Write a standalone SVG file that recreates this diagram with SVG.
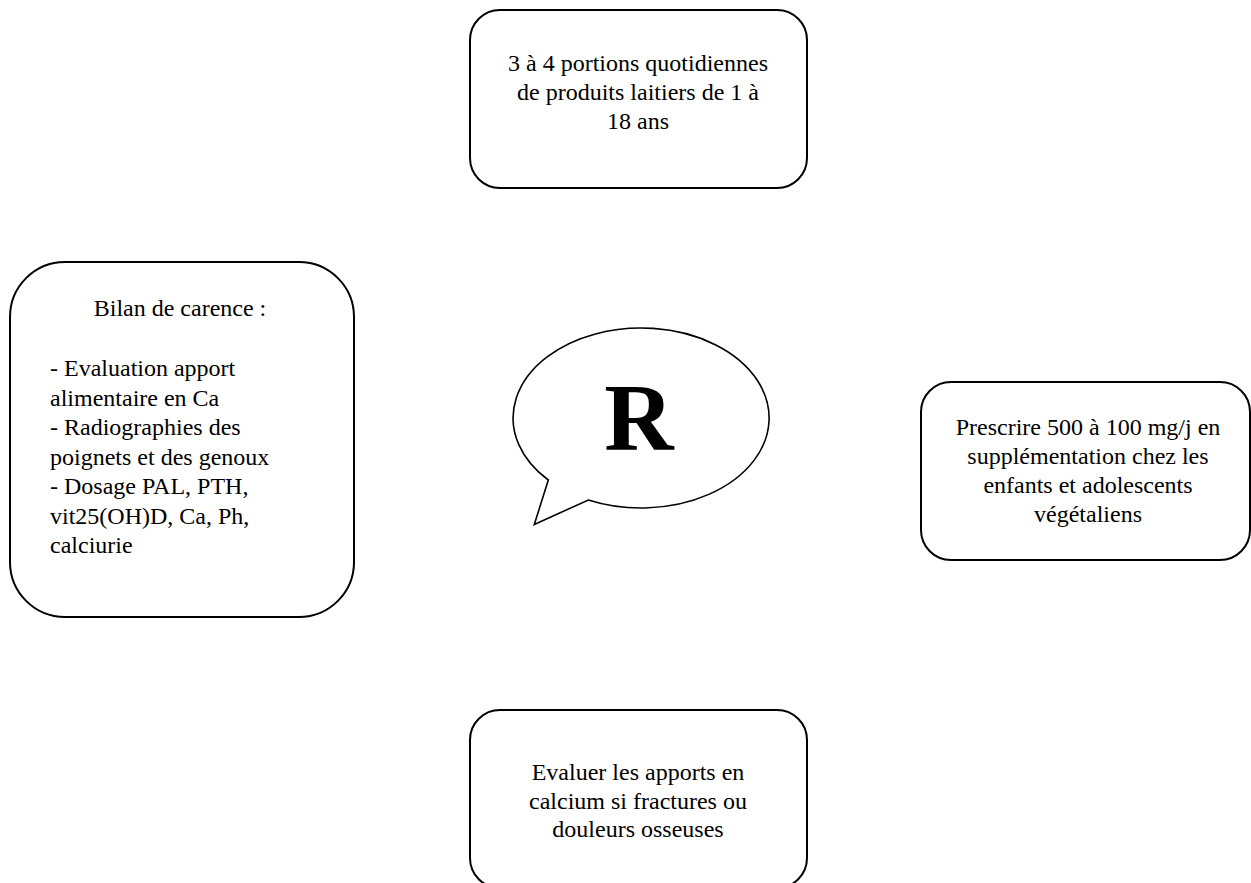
<svg xmlns="http://www.w3.org/2000/svg" width="1251" height="883" viewBox="0 0 1251 883">
<style>
.box{fill:#fff;stroke:#000;stroke-width:2}
.t{font-family:"Liberation Serif","Times New Roman",serif;font-size:24px;fill:#000}
.c{text-anchor:middle}
.bubble{fill:#fff;stroke:#000;stroke-width:1.6;stroke-linejoin:miter}
</style>
<rect width="1251" height="883" fill="#fff"/>
<g id="connectors"></g>
<g id="top">
<rect class="box" x="470" y="10" width="337" height="178" rx="30" ry="30"/>
<text class="t c" x="638" y="71">3 à 4 portions quotidiennes</text>
<text class="t c" x="638" y="100">de produits laitiers de 1 à</text>
<text class="t c" x="638" y="129">18 ans</text>
</g>
<g id="left">
<rect class="box" x="10" y="262" width="344" height="355" rx="55" ry="55"/>
<text class="t c" x="180" y="316">Bilan de carence :</text>
<text class="t" x="50" y="376">- Evaluation apport</text>
<text class="t" x="50" y="405.5">alimentaire en Ca</text>
<text class="t" x="50" y="435">- Radiographies des</text>
<text class="t" x="50" y="464.5">poignets et des genoux</text>
<text class="t" x="50" y="494">- Dosage PAL, PTH,</text>
<text class="t" x="50" y="523.5">vit25(OH)D, Ca, Ph,</text>
<text class="t" x="50" y="553">calciurie</text>
</g>
<g id="right">
<rect class="box" x="921" y="382" width="329" height="178" rx="30" ry="30"/>
<text class="t c" x="1088" y="435">Prescrire 500 à 100 mg/j en</text>
<text class="t c" x="1088" y="464">supplémentation chez les</text>
<text class="t c" x="1088" y="493">enfants et adolescents</text>
<text class="t c" x="1088" y="522">végétaliens</text>
</g>
<g id="bottom">
<rect class="box" x="470" y="710" width="337" height="178" rx="30" ry="30"/>
<text class="t c" x="638" y="780">Evaluer les apports en</text>
<text class="t c" x="638" y="808.5">calcium si fractures ou</text>
<text class="t c" x="638" y="837">douleurs osseuses</text>
</g>
<g id="center">
<path class="bubble" d="M548.3,480 A128,90 0 1 1 588.3,500 L534.3,524.5 Z"/>
<text x="639" y="450" text-anchor="middle" font-family="Liberation Serif,'Times New Roman',serif" font-weight="bold" font-size="96">R</text>
</g>
</svg>
